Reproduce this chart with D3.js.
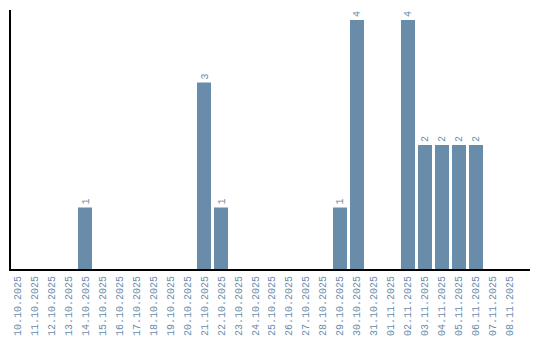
<!DOCTYPE html>
<html>
<head>
<meta charset="utf-8">
<script src="https://cdn.jsdelivr.net/npm/d3@7"></script>
<style>
  body { margin: 0; background: #fff; }
  text { font-family: "Liberation Mono", monospace; }
</style>
</head>
<body>
<div id="chart"></div>
<script>
// Data
const dates = ['10.10.2025', '11.10.2025', '12.10.2025', '13.10.2025', '14.10.2025',
  '15.10.2025', '16.10.2025', '17.10.2025', '18.10.2025', '19.10.2025',
  '20.10.2025', '21.10.2025', '22.10.2025', '23.10.2025', '24.10.2025',
  '25.10.2025', '26.10.2025', '27.10.2025', '28.10.2025', '29.10.2025',
  '30.10.2025', '31.10.2025', '01.11.2025', '02.11.2025', '03.11.2025',
  '04.11.2025', '05.11.2025', '06.11.2025', '07.11.2025', '08.11.2025'];
const counts = [0, 0, 0, 0, 1, 0, 0, 0, 0, 0, 0, 3, 1, 0, 0,
  0, 0, 0, 0, 1, 4, 0, 0, 4, 2, 2, 2, 2, 0, 0];

const width = 540, height = 340;
const barColor = '#6a8cab';
const textColor = '#6a8cab';

const svg = d3.select('#chart')
  .append('svg')
    .attr('width', width)
    .attr('height', height);

// Scales
const x = d3.scaleBand()
  .domain(dates)
  .range([10, 517])
  .paddingInner(0.176)
  .paddingOuter(0);

const y = d3.scaleLinear()
  .domain([0, 4])
  .range([270, 20]);

// Bars
svg.selectAll('.bar')
  .data(dates.map((d, i) => [d, counts[i]]).filter(d => d[1] > 0))
  .join('rect')
    .attr('class', 'bar')
    .attr('x', d => x(d[0]))
    .attr('y', d => y(d[1]))
    .attr('width', x.bandwidth())
    .attr('height', d => y(0) - y(d[1]))
    .attr('fill', barColor);

// Value labels
svg.selectAll('.value')
  .data(dates.map((d, i) => [d, counts[i]]).filter(d => d[1] > 0))
  .join('text')
    .attr('class', 'value')
    .attr('transform', d => `translate(${x(d[0]) + x.bandwidth() / 2 + 3.5},${y(d[1]) - 3}) rotate(-90)`)
    .attr('text-anchor', 'start')
    .style('font-size', '10px')
    .style('fill', textColor)
    .text(d => d[1]);

// X axis
const xAxis = svg.append('g')
  .attr('transform', `translate(0,${y(0)})`)
  .call(d3.axisBottom(x).tickSize(0).tickPadding(0));
xAxis.select('.domain').remove();
xAxis.selectAll('text')
  .attr('transform', 'rotate(-90)')
  .attr('text-anchor', 'end')
  .attr('x', -6)
  .attr('y', 0)
  .attr('dy', '0.35em')
  .style('font-size', '10px')
  .style('font-family', '"Liberation Mono", monospace')
  .style('fill', textColor);

// Axis lines
svg.append('line')
  .attr('x1', 10).attr('x2', 530)
  .attr('y1', y(0)).attr('y2', y(0))
  .attr('stroke', '#000')
  .attr('stroke-width', 2);

svg.append('line')
  .attr('x1', 10).attr('x2', 10)
  .attr('y1', 10).attr('y2', y(0) + 1)
  .attr('stroke', '#000')
  .attr('stroke-width', 2);
</script>
</body>
</html>
